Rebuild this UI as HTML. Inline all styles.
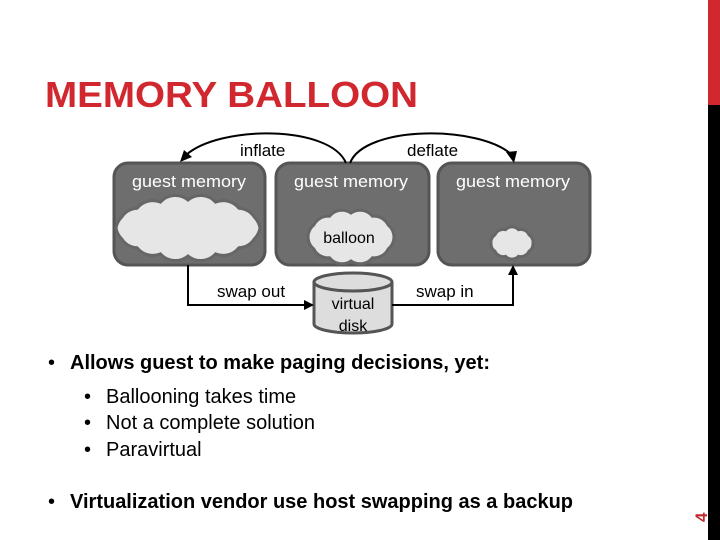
<!DOCTYPE html>
<html><head><style>body{margin:0;background:#fff}svg{display:block}</style></head><body>
<svg width="720" height="540" viewBox="0 0 720 540" font-family="Liberation Sans, Arial, sans-serif">
<rect x="708" y="0" width="12" height="105" fill="#d0282e"/>
<rect x="708" y="105" width="12" height="435" fill="#000"/>
<text transform="translate(707,522) rotate(-90)" font-size="17" font-weight="bold" fill="#c0282d">4</text>
<text x="45" y="107" font-size="36" font-weight="bold" fill="#d0282e" textLength="373" lengthAdjust="spacingAndGlyphs">MEMORY BALLOON</text>
<g fill="#6e6e6e" stroke="#555" stroke-width="3">
<rect x="114" y="163" width="151" height="102" rx="14"/>
<rect x="276" y="163" width="153" height="102" rx="14"/>
<rect x="438" y="163" width="152" height="102" rx="14"/>
</g>
<g font-size="17" fill="#fff" text-anchor="middle">
<text x="189" y="187" textLength="114" lengthAdjust="spacingAndGlyphs">guest memory</text>
<text x="351" y="187" textLength="114" lengthAdjust="spacingAndGlyphs">guest memory</text>
<text x="513" y="187" textLength="114" lengthAdjust="spacingAndGlyphs">guest memory</text>
</g>
<g stroke="#666" stroke-width="3" fill="#e6e6e6">
<path d="M260,228 A20,20 0 0 1 254.5,238.7 A20,20 0 0 1 238.9,247.8 A20,20 0 0 1 215.6,253.9 A20,20 0 0 1 188,256 A20,20 0 0 1 160.4,253.9 A20,20 0 0 1 137.1,247.8 A20,20 0 0 1 121.5,238.7 A20,20 0 0 1 116,228 A20,20 0 0 1 121.5,217.3 A20,20 0 0 1 137.1,208.2 A20,20 0 0 1 160.4,202.1 A20,20 0 0 1 188,200 A20,20 0 0 1 215.6,202.1 A20,20 0 0 1 238.9,208.2 A20,20 0 0 1 254.5,217.3 A20,20 0 0 1 260,228 Z"/>
<path d="M394,237 A16,16 0 0 1 388.2,249 A16,16 0 0 1 372.5,257.8 A16,16 0 0 1 351,261 A16,16 0 0 1 329.5,257.8 A16,16 0 0 1 313.8,249 A16,16 0 0 1 308,237 A16,16 0 0 1 313.8,225 A16,16 0 0 1 329.5,216.2 A16,16 0 0 1 351,213 A16,16 0 0 1 372.5,216.2 A16,16 0 0 1 388.2,225 A16,16 0 0 1 394,237 Z"/>
<path d="M533,243 A9,9 0 0 1 529,251.2 A9,9 0 0 1 518.5,256.3 A9,9 0 0 1 505.5,256.3 A9,9 0 0 1 495,251.2 A9,9 0 0 1 491,243 A9,9 0 0 1 495,234.8 A9,9 0 0 1 505.5,229.7 A9,9 0 0 1 518.5,229.7 A9,9 0 0 1 529,234.8 A9,9 0 0 1 533,243 Z"/>
</g>
<text x="349" y="243" font-size="16" text-anchor="middle" fill="#000">balloon</text>
<g stroke="#555" stroke-width="3" fill="#ddd">
<path d="M314,282 L314,324 A39,9 0 0 0 392,324 L392,282"/>
<ellipse cx="353" cy="282" rx="39" ry="9"/>
</g>
<text x="353" y="309" font-size="16" text-anchor="middle">virtual</text>
<text x="353" y="331" font-size="16" text-anchor="middle">disk</text>
<g stroke="#000" stroke-width="2" fill="none">
<path d="M346,163 C330,125 220,125 186,155"/>
<path d="M350,163 C365,125 480,125 512,155"/>
<path d="M188,265 L188,305 L306,305"/>
<path d="M392,305 L513,305 L513,273"/>
</g>
<g fill="#000">
<polygon points="180,162 184,150 192,157"/>
<polygon points="514,163 506,152 517,151"/>
<polygon points="314,305 304,300 304,310"/>
<polygon points="513,265 508,275 518,275"/>
</g>
<g font-size="17" fill="#000">
<text x="240" y="156">inflate</text>
<text x="407" y="156">deflate</text>
<text x="217" y="297">swap out</text>
<text x="416" y="297">swap in</text>
</g>
<g font-size="20" fill="#000">
<text x="48" y="369">•</text><text x="70" y="369" font-weight="bold" textLength="420" lengthAdjust="spacingAndGlyphs">Allows guest to make paging decisions, yet:</text>
<text x="84" y="403">•</text><text x="106" y="403">Ballooning takes time</text>
<text x="84" y="429">•</text><text x="106" y="429">Not a complete solution</text>
<text x="84" y="456">•</text><text x="106" y="456">Paravirtual</text>
<text x="48" y="508">•</text><text x="70" y="508" font-weight="bold" textLength="503" lengthAdjust="spacingAndGlyphs">Virtualization vendor use host swapping as a backup</text>
</g>
</svg>
</body></html>
